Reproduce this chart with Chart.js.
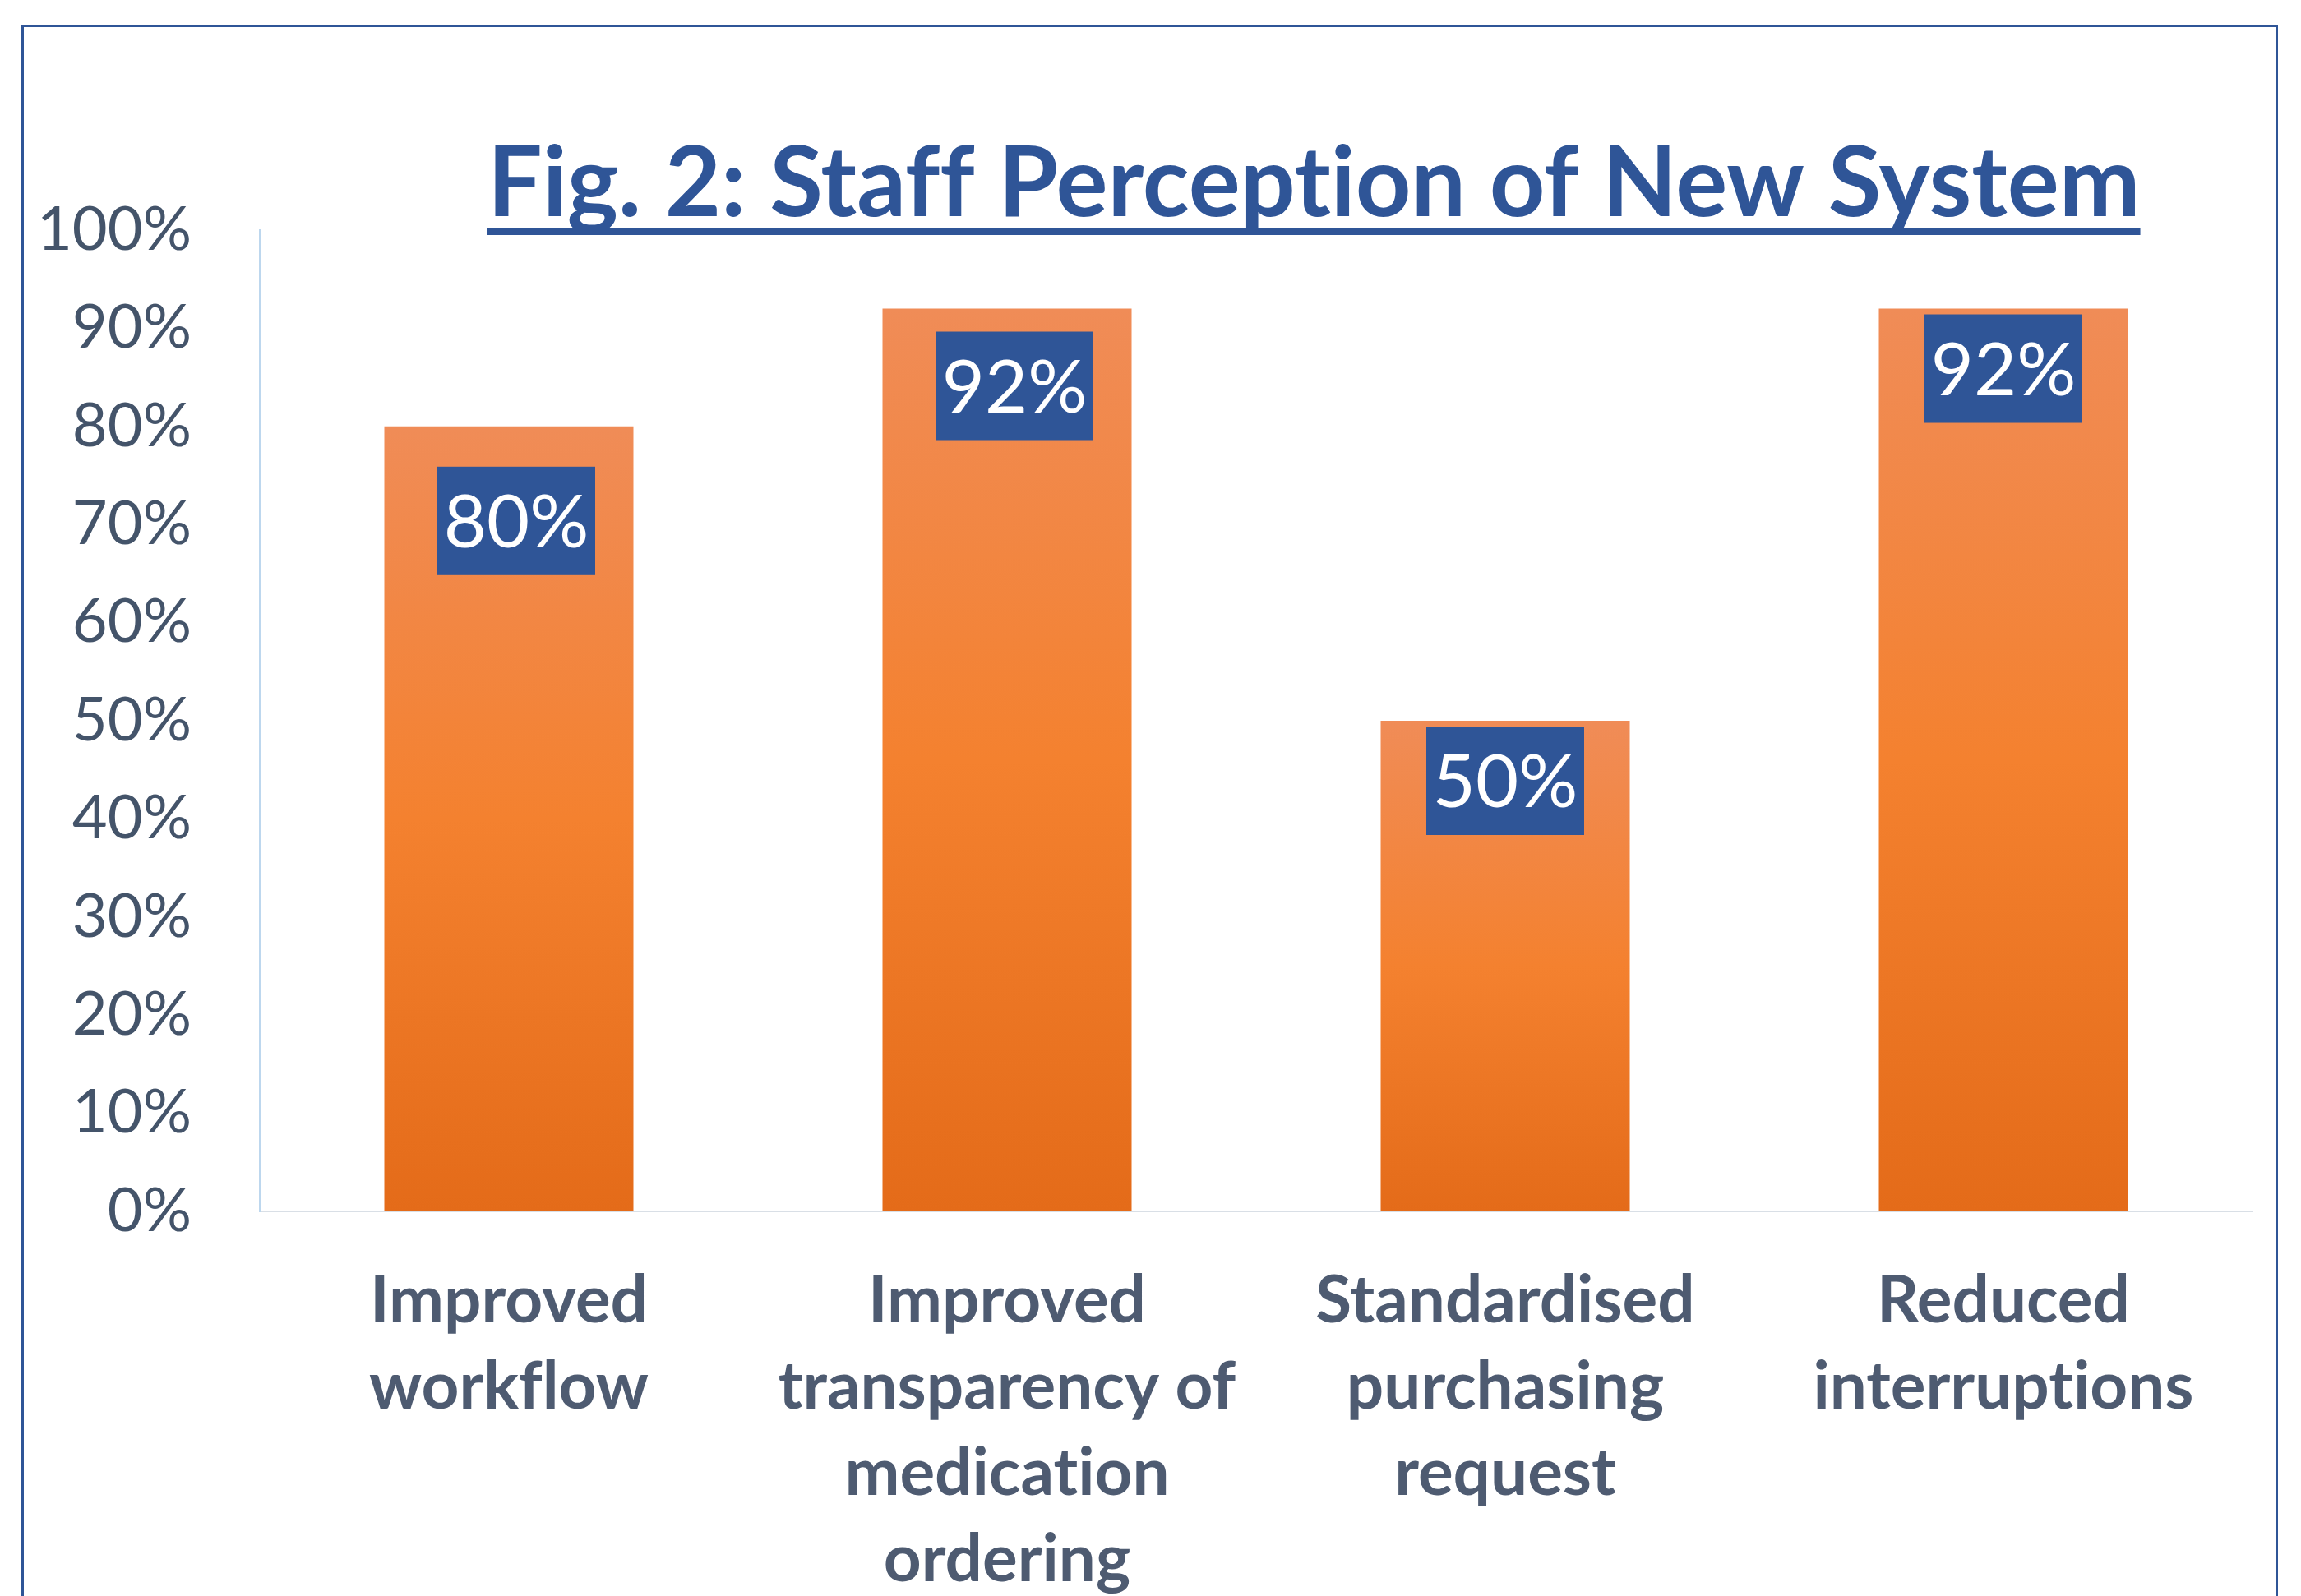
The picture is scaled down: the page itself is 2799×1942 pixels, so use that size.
<!DOCTYPE html>
<html lang="en">
<head>
  <meta charset="UTF-8">
  <title>Fig. 2: Staff Perception of New System</title>
  <script src="https://cdn.jsdelivr.net/npm/chart.js"></script>
  <style>
    html, body {
      margin: 0;
      padding: 0;
      background: #ffffff;
      overflow: hidden;
    }
    .frame {
      position: absolute;
      left: 26px;
      top: 30px;
      width: 2745px;
      height: 2100px;
      box-sizing: border-box;
      border: 3px solid #2F5597;
    }
    #perceptionChart {
      position: absolute;
      left: 0;
      top: 0;
    }
  </style>
</head>
<body>
  <div class="frame"></div>
  <canvas id="perceptionChart" width="2799" height="1942"></canvas>

  <script>
    // Data
    const categories = [
      ['Improved', 'workflow'],
      ['Improved', 'transparency of', 'medication', 'ordering'],
      ['Standardised', 'purchasing', 'request'],
      ['Reduced', 'interruptions']
    ];
    const agreePercent = [80, 92, 50, 92];
    const yTickValues = [0, 10, 20, 30, 40, 50, 60, 70, 80, 90, 100];

    const titleText = 'Fig. 2: Staff Perception of New System';
    const FONT = 'Lato, "Open Sans", sans-serif';

    // label boxes were nudged by hand in the original (px from bar top / centre)
    const labelGap = [49, 28, 7, 7];
    const labelShift = [9, 9, 0, 0];

    // no ligatures (fl, ti, ff) - the original font doesn't use them
    const plainText = {
      id: 'plainText',
      beforeDraw(chart) {
        chart.ctx.textRendering = 'optimizeSpeed';
        chart.ctx.fontVariantLigatures = 'none';
      }
    };

    // Title with underline
    const titlePlugin = {
      id: 'underlinedTitle',
      afterDraw(chart) {
        const ctx = chart.ctx;
        ctx.save();
        ctx.font = 'bold 118px ' + FONT;
        ctx.fillStyle = '#2F5597';
        ctx.textAlign = 'left';
        ctx.textBaseline = 'alphabetic';
        const x = 593, baseline = 263;
        ctx.fillText(titleText, x, baseline);
        const w = ctx.measureText(titleText).width;
        ctx.fillRect(x, 278, w, 8);
        ctx.restore();
      }
    };

    // Value labels in blue boxes
    const valueBoxPlugin = {
      id: 'valueBoxes',
      afterDatasetsDraw(chart) {
        const ctx = chart.ctx;
        const meta = chart.getDatasetMeta(0);
        ctx.save();
        ctx.font = '90px ' + FONT;
        ctx.textAlign = 'center';
        ctx.textBaseline = 'middle';
        meta.data.forEach((bar, i) => {
          const boxW = 192, boxH = 132;
          const cx = bar.x + labelShift[i];
          const top = bar.y + labelGap[i];
          ctx.fillStyle = '#2F5597';
          ctx.fillRect(cx - boxW / 2, top, boxW, boxH);
          ctx.fillStyle = '#ffffff';
          ctx.fillText(agreePercent[i] + '%', cx, top + boxH / 2 + 3);
        });
        ctx.restore();
      }
    };

    const ctx = document.getElementById('perceptionChart').getContext('2d');
    new Chart(ctx, {
      type: 'bar',
      data: {
        labels: categories,
        datasets: [{
          data: agreePercent,
          barPercentage: 0.5,
          categoryPercentage: 1,
          backgroundColor: (c) => {
            const chart = c.chart;
            if (!chart.chartArea || !c.parsed) return '#F4812F';
            const yScale = chart.scales.y;
            const top = yScale.getPixelForValue(c.parsed.y);
            const base = yScale.getPixelForValue(0);
            const g = chart.ctx.createLinearGradient(0, top, 0, base);
            g.addColorStop(0, '#F08C57');
            g.addColorStop(0.5, '#F4812F');
            g.addColorStop(1, '#E46B19');
            return g;
          }
        }]
      },
      options: {
        responsive: false,
        animation: false,
        events: [],
        devicePixelRatio: 1,
        layout: {
          padding: { left: 0, right: 59, top: 280, bottom: 0 }
        },
        plugins: {
          legend: { display: false },
          tooltip: { enabled: false },
          title: { display: false }
        },
        scales: {
          x: {
            grid: { display: false, drawTicks: false },
            border: { display: true, color: '#D9DFE6', width: 2 },
            ticks: {
              color: '#4E5B71',
              padding: 57,
              maxRotation: 0,
              autoSkip: false,
              font: { family: FONT, size: 80, weight: 'bold', lineHeight: 1.31 }
            },
            afterFit(scale) { scale.height = 468; }
          },
          y: {
            min: 0,
            max: 100,
            afterBuildTicks(scale) {
              scale.ticks = yTickValues.map(v => ({ value: v }));
            },
            grid: { display: false, drawTicks: false },
            border: { display: true, color: '#BDD7EE', width: 2 },
            ticks: {
              color: '#44546A',
              padding: 83,
              callback: v => v + '%',
              font: { family: FONT, size: 74 }
            },
            afterFit(scale) { scale.width = 316; }
          }
        }
      },
      plugins: [plainText, titlePlugin, valueBoxPlugin]
    });
  </script>
</body>
</html>
